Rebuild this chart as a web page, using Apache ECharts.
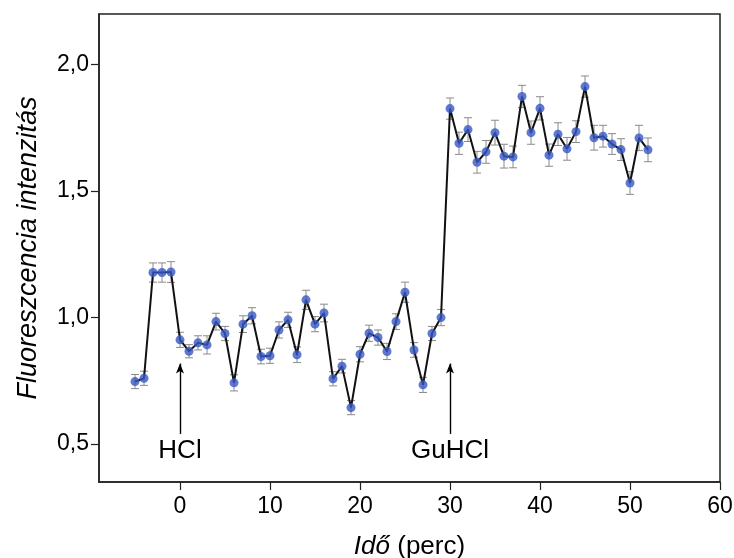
<!DOCTYPE html>
<html>
<head>
<meta charset="utf-8">
<script src="https://cdn.jsdelivr.net/npm/echarts@6/dist/echarts.min.js"></script>
<style>html,body{margin:0;padding:0;background:#fff;}#c{width:734px;height:558px;}</style>
</head>
<body>
<div id="c"></div>
<script>
var times = [-5,-4,-3,-2,-1,0,1,2,3,4,5,6,7,8,9,10,11,12,13,14,15,16,17,18,19,20,21,22,23,24,25,26,27,28,29,30,31,32,33,34,35,36,37,38,39,40,41,42,43,44,45,46,47,48,49,50,51,52];
var intensity = [0.747,0.760,1.178,1.178,1.180,0.912,0.867,0.900,0.892,0.984,0.937,0.742,0.974,1.007,0.846,0.849,0.951,0.991,0.853,1.070,0.974,1.018,0.758,0.808,0.644,0.855,0.938,0.921,0.866,0.984,1.100,0.872,0.734,0.937,1.000,1.826,1.689,1.743,1.614,1.655,1.731,1.638,1.635,1.874,1.731,1.827,1.642,1.725,1.667,1.735,1.913,1.711,1.717,1.686,1.664,1.532,1.710,1.663];
var errors = [0.028,0.028,0.038,0.038,0.041,0.030,0.026,0.028,0.036,0.033,0.028,0.032,0.033,0.032,0.029,0.030,0.032,0.030,0.031,0.038,0.030,0.035,0.028,0.027,0.028,0.030,0.032,0.030,0.032,0.031,0.040,0.029,0.030,0.028,0.032,0.042,0.044,0.047,0.043,0.045,0.049,0.047,0.043,0.044,0.046,0.046,0.044,0.045,0.045,0.043,0.042,0.049,0.043,0.041,0.043,0.045,0.050,0.047];
var xTicks = [0,10,20,30,40,50,60];
var yTicks = [0.5,1.0,1.5,2.0];
var arrows = [
  {label: 'HCl', x: 0, from: 0.54, to: 0.818},
  {label: 'GuHCl', x: 30, from: 0.54, to: 0.818}
];

var lineData = times.map(function(t,i){return [t, intensity[i]];});
var errData = times.map(function(t,i){return [t, intensity[i]-errors[i], intensity[i]+errors[i]];});
var FONT = '"Liberation Sans", Arial, sans-serif';

var chart = echarts.init(document.getElementById('c'), null, {renderer:'canvas'});
chart.setOption({
  animation: false,
  backgroundColor: '#fff',
  grid: {left: 99, right: 14, top: 14, bottom: 76, outerBoundsMode: 'none', containLabel: false,
    show: true, borderColor: '#222', borderWidth: 1.5, backgroundColor: 'transparent'},
  xAxis: {
    type: 'value', min: -9, max: 60,
    name: '{i|Idő} (perc)', nameLocation: 'middle', nameGap: 52,
    nameTextStyle: {fontFamily: FONT, fontSize: 26, color: '#000', rich: {i: {fontStyle: 'italic', fontFamily: FONT, fontSize: 26, color: '#000'}}},
    axisLine: {show: true, onZero: false, lineStyle: {color: '#222', width: 1.5}},
    axisTick: {show: true, length: 8, lineStyle: {color: '#222', width: 1.2}, customValues: xTicks},
    axisLabel: {fontFamily: FONT, fontSize: 23, color: '#000', margin: 13, customValues: xTicks},
    splitLine: {show: false}
  },
  yAxis: {
    type: 'value', min: 0.35, max: 2.2,
    name: 'Fluoreszcencia intenzitás', nameLocation: 'middle', nameGap: 57,
    nameTextStyle: {fontFamily: FONT, fontSize: 27, fontStyle: 'italic', color: '#000'},
    axisLine: {show: true, onZero: false, lineStyle: {color: '#222', width: 1.5}},
    axisTick: {show: true, length: 8, lineStyle: {color: '#222', width: 1.2}, customValues: yTicks},
    axisLabel: {fontFamily: FONT, fontSize: 23, color: '#000', margin: 10, customValues: yTicks,
      formatter: function(v){return v.toFixed(1).replace('.', ',');}},
    splitLine: {show: false}
  },
  series: [
    {
      type: 'custom',
      data: errData,
      z: 1,
      silent: true,
      renderItem: function(params, api){
        var x = api.value(0);
        var lo = api.coord([x, api.value(1)]);
        var hi = api.coord([x, api.value(2)]);
        var w = 4;
        var st = {stroke: '#8a8a8a', lineWidth: 1};
        return {type: 'group', children: [
          {type: 'line', shape: {x1: lo[0], y1: lo[1], x2: hi[0], y2: hi[1]}, style: st},
          {type: 'line', shape: {x1: lo[0]-w, y1: lo[1], x2: lo[0]+w, y2: lo[1]}, style: st},
          {type: 'line', shape: {x1: hi[0]-w, y1: hi[1], x2: hi[0]+w, y2: hi[1]}, style: st}
        ]};
      }
    },
    {
      type: 'line',
      data: lineData,
      z: 2,
      symbol: 'none',
      lineStyle: {color: '#111', width: 2},
      markLine: {
        silent: true,
        symbol: ['none', 'arrow'],
        symbolSize: [6, 10],
        lineStyle: {color: '#000', width: 1.4, type: 'solid'},
        label: {show: true, position: 'start', distance: 4, fontFamily: FONT, fontSize: 26, color: '#000',
          formatter: function(p){return p.name;}},
        data: arrows.map(function(a){
          return [{name: a.label, coord: [a.x, a.from]}, {coord: [a.x, a.to]}];
        })
      }
    },
    {
      type: 'scatter',
      data: lineData,
      z: 3,
      symbol: 'circle',
      symbolSize: 9,
      itemStyle: {color: '#3757C6'}
    }
  ]
});
</script>
</body>
</html>
